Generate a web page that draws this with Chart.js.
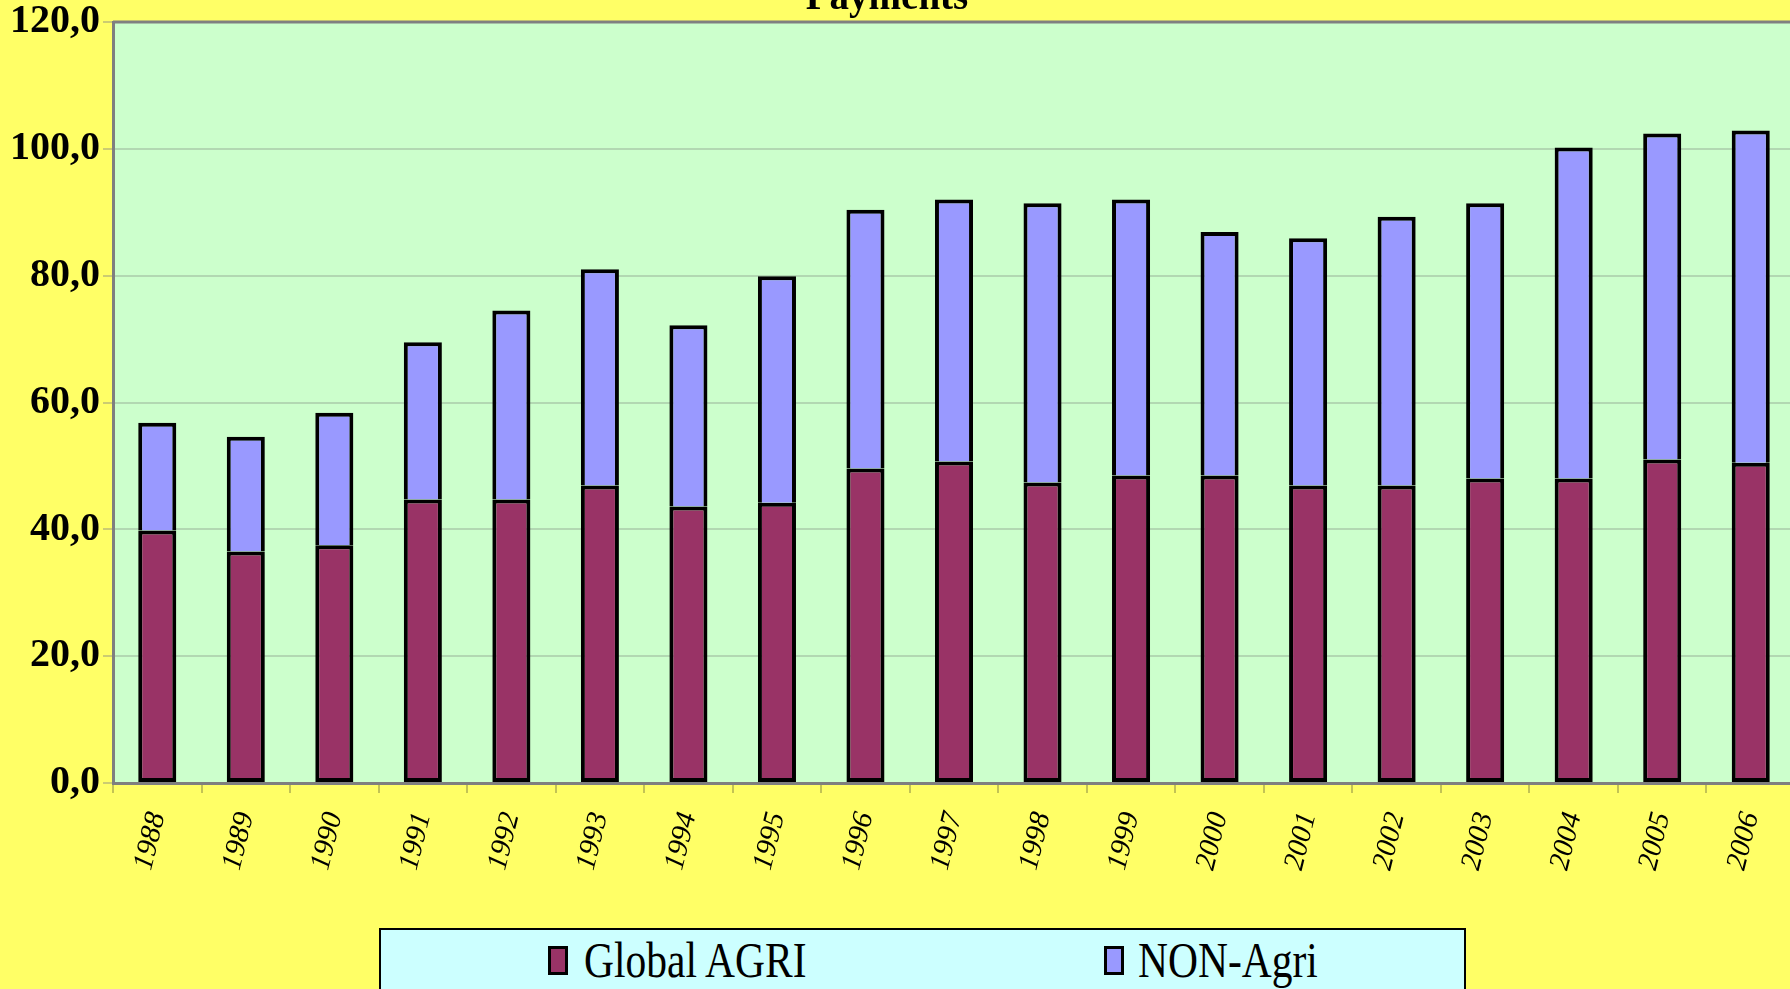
<!DOCTYPE html>
<html>
<head>
<meta charset="utf-8">
<script src="https://cdn.jsdelivr.net/npm/chart.js@4/dist/chart.umd.min.js"></script>
<style>
  html, body { margin: 0; padding: 0; background: #FFFF66; overflow: hidden; }
  #wrap { position: relative; width: 1790px; height: 989px; overflow: hidden; }
  #legend {
    position: absolute; left: 379px; top: 928px; width: 1087px; height: 80px;
    background: #CCFFFF; border: 2px solid #000; box-sizing: border-box;
  }
  .item { position: absolute; top: 15px; height: 34px; font-family: "Liberation Serif", "Times New Roman", serif; font-size: 50px; color: #000; line-height: 34px; white-space: nowrap; }
  .sw { position: absolute; top: 1px; width: 20px; height: 29px; box-sizing: border-box; border: 3px solid #000; }
  .txt { position: absolute; top: -2px; transform: scaleX(0.83); transform-origin: left center; line-height: 34px; }
</style>
</head>
<body>
<div id="wrap">
  <canvas id="c" width="1795" height="989"></canvas>
  <div id="legend"></div>
</div>
<script>
const titleText = 'Payments';
const years = ['1988','1989','1990','1991','1992','1993','1994','1995','1996','1997','1998','1999','2000','2001','2002','2003','2004','2005','2006'];
const globalAgri = [39.8, 36.5, 37.5, 44.7, 44.7, 46.9, 43.6, 44.2, 49.6, 50.7, 47.4, 48.5, 48.5, 46.9, 46.9, 48.0, 48.0, 51.0, 50.5];
const nonAgri    = [17.0, 18.1, 20.9, 24.8, 29.8, 34.1, 28.6, 35.7, 40.8, 41.3, 44.0, 43.5, 38.4, 39.0, 42.4, 43.4, 52.2, 51.4, 52.4];
const yTickLabels = ['0,0','20,0','40,0','60,0','80,0','100,0','120,0'];
const seriesNames = ['Global AGRI', 'NON-Agri'];
const seriesColors = ['#993366', '#9999FF'];

const bgPlugin = {
  id: 'bg',
  beforeDraw(chart) {
    const {ctx, chartArea: a} = chart;
    ctx.save();
    ctx.fillStyle = '#CCFFCC';
    ctx.fillRect(a.left, a.top, a.right - a.left, a.bottom - a.top);
    ctx.restore();
  },
  afterDraw(chart) {
    const {ctx, chartArea: a} = chart;
    ctx.save();
    ctx.strokeStyle = '#808080';
    ctx.lineWidth = 3;
    ctx.beginPath();
    ctx.moveTo(a.left, a.top);
    ctx.lineTo(a.right, a.top);
    ctx.stroke();
    ctx.fillStyle = '#000';
    ctx.font = 'bold 39px "Liberation Serif", serif';
    ctx.textAlign = 'center';
    ctx.textBaseline = 'alphabetic';
    ctx.fillText(titleText, 887, 9);
    ctx.restore();
  }
};

new Chart(document.getElementById('c'), {
  type: 'bar',
  data: {
    labels: years,
    datasets: [
      { label: seriesNames[0], data: globalAgri, backgroundColor: seriesColors[0], borderColor: '#000', borderWidth: 4, borderSkipped: false, barPercentage: 0.43, categoryPercentage: 1 },
      { label: seriesNames[1], data: nonAgri, backgroundColor: seriesColors[1], borderColor: '#000', borderWidth: 4, borderSkipped: 'bottom', barPercentage: 0.43, categoryPercentage: 1 }
    ]
  },
  options: {
    responsive: false,
    devicePixelRatio: 1,
    animation: false,
    layout: { padding: { top: 22, left: 0, right: 0, bottom: 0 } },
    plugins: { legend: { display: false }, title: { display: false }, tooltip: { enabled: false } },
    scales: {
      x: {
        stacked: true,
        afterFit(s) { s.height = 206; s.paddingLeft = 0; s.paddingRight = 0; },
        grid: { drawOnChartArea: false, drawTicks: true, tickLength: 10, tickColor: 'rgba(180,180,80,0.8)', lineWidth: 2, offset: true },
        border: { color: '#7F7F7F', width: 3 },
        ticks: {
          color: '#000', minRotation: 76, maxRotation: 76, padding: 16, autoSkip: false,
          font: { family: '"Liberation Serif", serif', size: 29, style: 'italic' }
        }
      },
      y: {
        stacked: true,
        min: 0, max: 120,
        afterFit(s) { s.width = 113; s.paddingTop = 0; s.paddingBottom = 0; },
        grid: { color: '#B2D8B2', lineWidth: 2, tickLength: 10, tickColor: 'rgba(170,170,120,0.6)' },
        border: { color: '#7F7F7F', width: 3 },
        ticks: {
          stepSize: 20, color: '#000', padding: 3,
          font: { family: '"Liberation Serif", serif', size: 40, weight: 'bold' },
          callback: (v, i) => yTickLabels[i]
        }
      }
    }
  },
  plugins: [bgPlugin]
});

const legend = document.getElementById('legend');
const legendPos = [[167, 203], [723, 757]];
seriesNames.forEach((name, i) => {
  const it = document.createElement('div');
  it.className = 'item';
  it.style.left = '0px';
  const sw = document.createElement('div');
  sw.className = 'sw';
  sw.style.left = legendPos[i][0] + 'px';
  sw.style.background = seriesColors[i];
  const tx = document.createElement('div');
  tx.className = 'txt';
  tx.style.left = legendPos[i][1] + 'px';
  tx.textContent = name;
  it.appendChild(sw); it.appendChild(tx);
  legend.appendChild(it);
});
</script>
</body>
</html>
